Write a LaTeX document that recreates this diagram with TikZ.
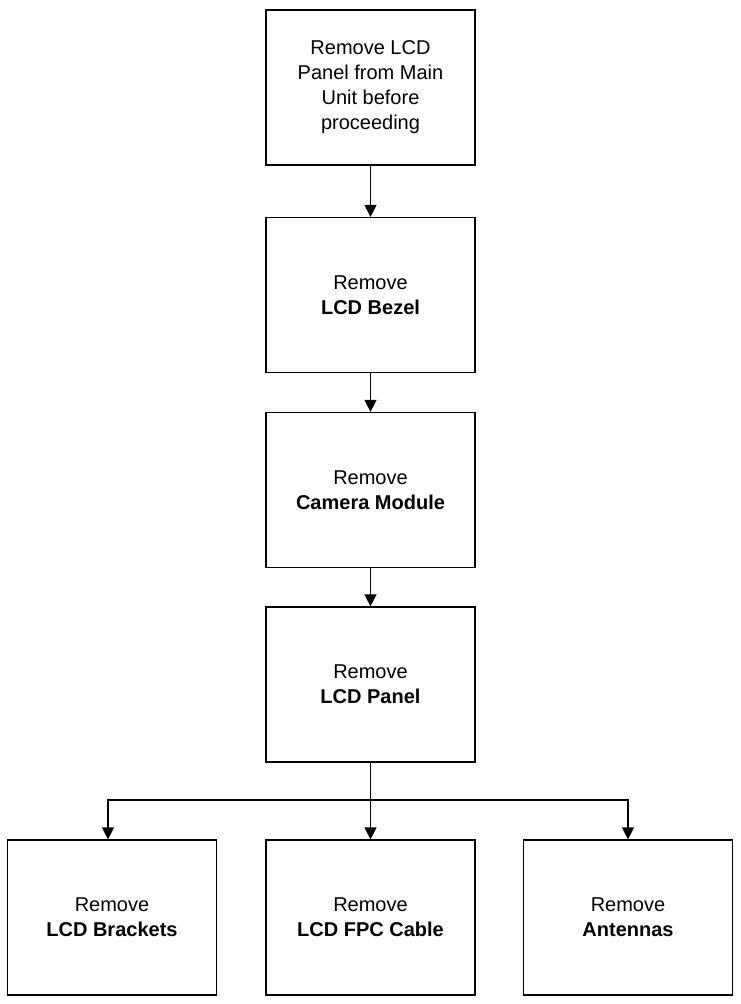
\documentclass[tikz,border=0pt]{standalone}
\usepackage{fontspec}
\setmainfont{Liberation Sans}
\usetikzlibrary{arrows.meta}
\begin{document}
\begin{tikzpicture}[x=1pt,y=-1pt,
  box/.style={draw,line width=1.2pt,minimum width=209pt,minimum height=155pt,align=center,font=\fontsize{20}{25}\selectfont,inner sep=4pt},
  arr/.style={line width=1.2pt,-{Triangle[length=12pt,width=12pt]}}]
\useasboundingbox (0,0) rectangle (740,1004);
\node[box] (a) at (370.5,87.5) {Remove LCD\\Panel from Main\\Unit before\\proceeding};
\node[box] (b) at (370.5,295) {Remove\\\textbf{LCD Bezel}};
\node[box] (c) at (370.5,490) {Remove\\\textbf{Camera Module}};
\node[box] (d) at (370.5,684.5) {Remove\\\textbf{LCD Panel}};
\node[box] (e) at (112,917.5) {Remove\\\textbf{LCD Brackets}};
\node[box] (f) at (370.5,917.5) {Remove\\\textbf{LCD FPC Cable}};
\node[box] (g) at (628,917.5) {Remove\\\textbf{Antennas}};
\draw[arr] (a) -- (b);
\draw[arr] (b) -- (c);
\draw[arr] (c) -- (d);
\draw[arr] (d) -- (f);
\coordinate (j) at (370.5,800);
\draw[arr] (j) -| ([xshift=-4pt]e.north);
\draw[arr] (j) -| (g.north);
\end{tikzpicture}
\end{document}
